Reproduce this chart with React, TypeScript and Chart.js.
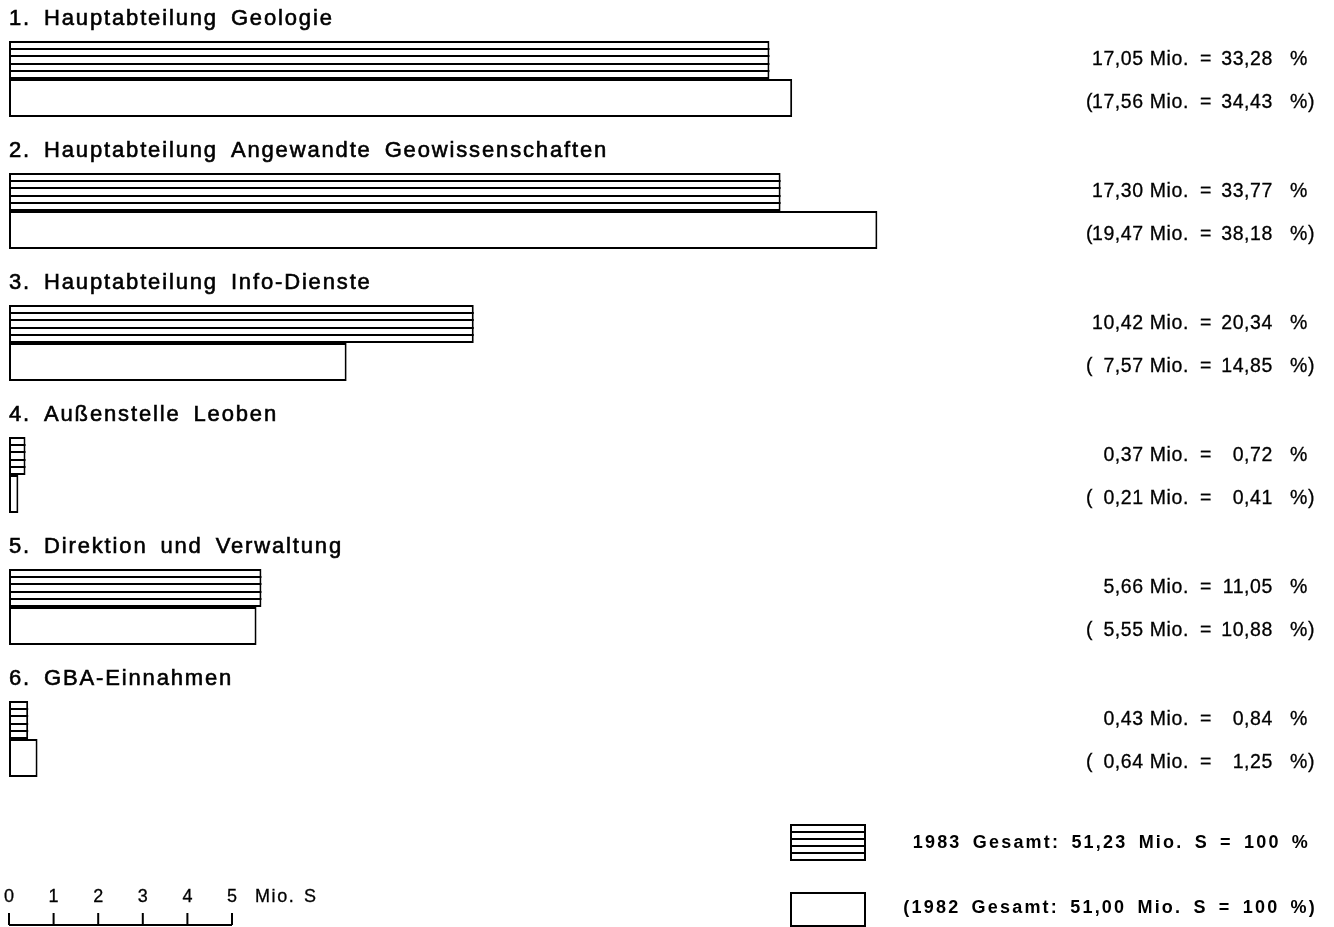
import React, { useEffect, useRef } from "react";
import { Chart, registerables } from "chart.js";

Chart.register(...registerables);

const categories = [
  "1. Hauptabteilung Geologie",
  "2. Hauptabteilung Angewandte Geowissenschaften",
  "3. Hauptabteilung Info-Dienste",
  "4. Außenstelle Leoben",
  "5. Direktion und Verwaltung",
  "6. GBA-Einnahmen",
];
const values1983 = [17.05, 17.3, 10.42, 0.37, 5.66, 0.43];
const values1982 = [17.56, 19.47, 7.57, 0.21, 5.55, 0.64];
const labels1983 = [
  "17,05 Mio. = 33,28 %",
  "17,30 Mio. = 33,77 %",
  "10,42 Mio. = 20,34 %",
  "0,37 Mio. =  0,72 %",
  "5,66 Mio. = 11,05 %",
  "0,43 Mio. =  0,84 %",
];
const labels1982 = [
  "(17,56 Mio. = 34,43 %)",
  "(19,47 Mio. = 38,18 %)",
  "( 7,57 Mio. = 14,85 %)",
  "( 0,21 Mio. =  0,41 %)",
  "( 5,55 Mio. = 10,88 %)",
  "( 0,64 Mio. =  1,25 %)",
];
const scaleTicks = [0, 1, 2, 3, 4, 5];
const scaleUnit = "Mio. S";
const legend1983 = "1983 Gesamt: 51,23 Mio. S = 100 %";
const legend1982 = "(1982 Gesamt: 51,00 Mio. S = 100 %)";

const FONT = '"Liberation Sans", Arial, Helvetica, sans-serif';

function setSpacing(ctx: any, letter: number, word: number) {
  ctx.letterSpacing = letter + "px";
  ctx.wordSpacing = word + "px";
}

function heavyText(ctx: CanvasRenderingContext2D, t: string, x: number, y: number, w: number) {
  ctx.fillText(t, x, y);
  if (w > 0) {
    ctx.lineWidth = w;
    ctx.strokeStyle = "#000";
    ctx.strokeText(t, x, y);
  }
}

// value label laid out in aligned columns: "[(]num Mio." | "=" | "num" | "%[)]"
function drawValueLabel(ctx: CanvasRenderingContext2D, label: string, y: number) {
  const [leftRaw, rightRaw] = label.split("=");
  let left = leftRaw.trim();
  const right = rightRaw.trim();
  ctx.textAlign = "left";
  if (left.startsWith("(")) {
    heavyText(ctx, "(", 1086, y, 0.3);
    left = left.slice(1).trim();
  }
  ctx.textAlign = "right";
  heavyText(ctx, left, 1189, y, 0.3);
  ctx.textAlign = "center";
  heavyText(ctx, "=", 1206, y, 0.3);
  const parts = right.split(/\s+/);
  ctx.textAlign = "right";
  heavyText(ctx, parts[0], 1273, y, 0.3);
  ctx.textAlign = "left";
  heavyText(ctx, parts[1], 1290, y, 0.3);
}

function drawHatch(ctx: CanvasRenderingContext2D, left: number, right: number, top: number, bottom: number) {
  ctx.save();
  ctx.strokeStyle = "#000";
  ctx.lineWidth = 2;
  const h = bottom - top;
  for (let k = 1; k <= 4; k++) {
    const yy = Math.round(top + (k * h) / 5);
    ctx.beginPath();
    ctx.moveTo(left, yy);
    ctx.lineTo(right, yy);
    ctx.stroke();
  }
  ctx.restore();
}

const decorPlugin = {
  id: "decor",
  afterDatasetsDraw(chart: any) {
    const ctx: CanvasRenderingContext2D = chart.ctx;
    const xs = chart.scales.x;
    const ys = chart.scales.y;
    const meta0 = chart.getDatasetMeta(0);
    meta0.data.forEach((el: any) => {
      const p = el.getProps(["x", "y", "base", "height"], true);
      const top = p.y - p.height / 2;
      const bottom = p.y + p.height / 2;
      drawHatch(ctx, Math.min(p.base, p.x), Math.max(p.base, p.x), top, bottom);
    });
    ctx.save();
    ctx.fillStyle = "#000";
    ctx.textBaseline = "middle";
    categories.forEach((c, i) => {
      const cy = ys.getPixelForValue(i);
      ctx.font = `22px ${FONT}`;
      setSpacing(ctx, 1.85, 5);
      ctx.textAlign = "left";
      heavyText(ctx, c, xs.getPixelForValue(0), cy - 60, 0.6);
      ctx.font = `19.5px ${FONT}`;
      setSpacing(ctx, 0.6, 0);
      drawValueLabel(ctx, labels1983[i], cy - 19);
      drawValueLabel(ctx, labels1982[i], cy + 24);
    });
    const baseY = 925;
    ctx.strokeStyle = "#000";
    ctx.lineWidth = 2;
    ctx.beginPath();
    ctx.moveTo(xs.getPixelForValue(scaleTicks[0]), baseY);
    ctx.lineTo(xs.getPixelForValue(scaleTicks[scaleTicks.length - 1]), baseY);
    ctx.stroke();
    ctx.font = `18px ${FONT}`;
    setSpacing(ctx, 0, 0);
    ctx.textAlign = "center";
    scaleTicks.forEach((t) => {
      const px = xs.getPixelForValue(t);
      ctx.lineWidth = 2;
      ctx.beginPath();
      ctx.moveTo(px, baseY);
      ctx.lineTo(px, baseY - 12);
      ctx.stroke();
      heavyText(ctx, String(t), px, 897, 0.3);
    });
    ctx.textAlign = "left";
    setSpacing(ctx, 1.6, 2);
    heavyText(ctx, scaleUnit, xs.getPixelForValue(scaleTicks[scaleTicks.length - 1]) + 23, 897, 0.3);
    ctx.lineWidth = 2;
    ctx.strokeRect(791, 825, 74, 35);
    drawHatch(ctx, 791, 865, 825, 860);
    ctx.lineWidth = 2;
    ctx.strokeRect(791, 893, 74, 33);
    ctx.font = `bold 18px ${FONT}`;
    setSpacing(ctx, 2.2, 4);
    ctx.textAlign = "right";
    heavyText(ctx, legend1983, 1310, 843, 0);
    heavyText(ctx, legend1982, 1317, 908, 0);
    ctx.restore();
  },
};

export default function App() {
  const ref = useRef<HTMLCanvasElement | null>(null);
  useEffect(() => {
    document.body.style.margin = "0";
    const canvas = ref.current!;
    const pxPerUnit = 44.6;
    const left = 9;
    const maxV = 28;
    const right = 1334 - (left + maxV * pxPerUnit);
    const chart = new Chart(canvas, {
      type: "bar",
      data: {
        labels: categories,
        datasets: [
          {
            label: "1983",
            data: values1983,
            backgroundColor: "#fff",
            borderColor: "#000",
            borderWidth: 2,
            borderSkipped: false,
            categoryPercentage: 76 / 132,
            barPercentage: 1,
          },
          {
            label: "1982",
            data: values1982,
            backgroundColor: "#fff",
            borderColor: "#000",
            borderWidth: 2,
            borderSkipped: false,
            categoryPercentage: 76 / 132,
            barPercentage: 1,
          },
        ],
      },
      options: {
        indexAxis: "y",
        responsive: false,
        animation: false,
        devicePixelRatio: 1,
        layout: { padding: { left, right, top: 13, bottom: 927 - 805 } },
        scales: {
          x: { display: false, min: 0, max: maxV },
          y: { display: false },
        },
        plugins: { legend: { display: false }, tooltip: { enabled: false } },
      },
      plugins: [decorPlugin],
    } as any);
    return () => chart.destroy();
  }, []);
  return (
    <div style={{ position: "absolute", left: 0, top: 0, width: 1334, height: 927, background: "#fff" }}>
      <canvas ref={ref} width={1334} height={927} style={{ display: "block" }} />
    </div>
  );
}
